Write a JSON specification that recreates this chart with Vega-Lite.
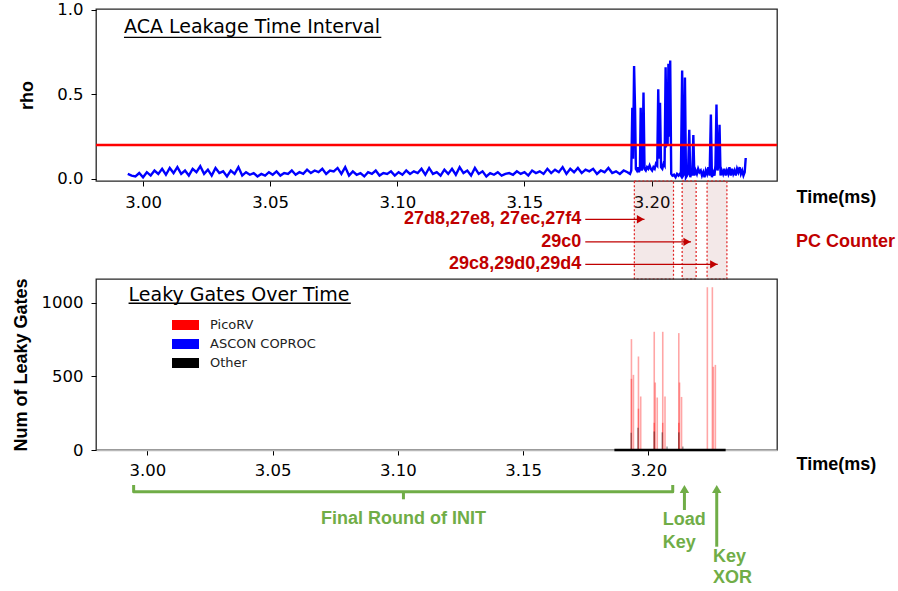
{
"$schema": "https://vega.github.io/schema/vega-lite/v6.json",
"background": "white",
"padding": {"left": 11, "top": 1, "right": 2, "bottom": 0},
"bounds": "flush",
"spacing": 0,
"config": {
  "view": {"stroke": null},
  "axis": {"labelFont": "DejaVu Sans", "labelFontSize": 16.5, "labelColor": "#000", "tickColor": "#000", "tickWidth": 1, "titleFont": "Liberation Sans", "titleFontSize": 18, "titleFontWeight": "bold", "titleColor": "#000", "grid": false}
},
"datasets": {
  "rho": [
{"t":2.9940,"rho":0.03},{"t":2.9955,"rho":0.02},{"t":2.9970,"rho":0.015},{"t":2.9985,"rho":0.035},{"t":3.0000,"rho":0.01},{"t":3.0015,"rho":0.04},{"t":3.0030,"rho":0.02},{"t":3.0045,"rho":0.05},{"t":3.0060,"rho":0.03},{"t":3.0075,"rho":0.06},
{"t":3.0090,"rho":0.025},{"t":3.0105,"rho":0.065},{"t":3.0120,"rho":0.035},{"t":3.0135,"rho":0.07},{"t":3.0150,"rho":0.03},{"t":3.0165,"rho":0.05},{"t":3.0180,"rho":0.02},{"t":3.0195,"rho":0.06},{"t":3.0210,"rho":0.04},{"t":3.0225,"rho":0.075},
{"t":3.0240,"rho":0.03},{"t":3.0255,"rho":0.055},{"t":3.0270,"rho":0.02},{"t":3.0285,"rho":0.065},{"t":3.0300,"rho":0.035},{"t":3.0315,"rho":0.045},{"t":3.0330,"rho":0.015},{"t":3.0345,"rho":0.05},{"t":3.0360,"rho":0.03},{"t":3.0375,"rho":0.07},
{"t":3.0390,"rho":0.02},{"t":3.0405,"rho":0.04},{"t":3.0420,"rho":0.025},{"t":3.0435,"rho":0.035},{"t":3.0450,"rho":0.015},{"t":3.0465,"rho":0.03},{"t":3.0480,"rho":0.02},{"t":3.0495,"rho":0.04},{"t":3.0510,"rho":0.025},{"t":3.0525,"rho":0.045},
{"t":3.0540,"rho":0.02},{"t":3.0555,"rho":0.035},{"t":3.0570,"rho":0.03},{"t":3.0585,"rho":0.05},{"t":3.0600,"rho":0.025},{"t":3.0615,"rho":0.04},{"t":3.0630,"rho":0.03},{"t":3.0645,"rho":0.055},{"t":3.0660,"rho":0.035},{"t":3.0675,"rho":0.05},
{"t":3.0690,"rho":0.04},{"t":3.0705,"rho":0.06},{"t":3.0720,"rho":0.03},{"t":3.0735,"rho":0.05},{"t":3.0750,"rho":0.045},{"t":3.0765,"rho":0.065},{"t":3.0780,"rho":0.03},{"t":3.0795,"rho":0.07},{"t":3.0810,"rho":0.02},{"t":3.0825,"rho":0.045},
{"t":3.0840,"rho":0.025},{"t":3.0855,"rho":0.035},{"t":3.0870,"rho":0.015},{"t":3.0885,"rho":0.04},{"t":3.0900,"rho":0.03},{"t":3.0915,"rho":0.05},{"t":3.0930,"rho":0.02},{"t":3.0945,"rho":0.035},{"t":3.0960,"rho":0.03},{"t":3.0975,"rho":0.045},
{"t":3.0990,"rho":0.02},{"t":3.1005,"rho":0.04},{"t":3.1020,"rho":0.025},{"t":3.1035,"rho":0.05},{"t":3.1050,"rho":0.03},{"t":3.1065,"rho":0.045},{"t":3.1080,"rho":0.035},{"t":3.1095,"rho":0.06},{"t":3.1110,"rho":0.025},{"t":3.1125,"rho":0.065},
{"t":3.1140,"rho":0.03},{"t":3.1155,"rho":0.04},{"t":3.1170,"rho":0.02},{"t":3.1185,"rho":0.055},{"t":3.1200,"rho":0.03},{"t":3.1215,"rho":0.06},{"t":3.1230,"rho":0.025},{"t":3.1245,"rho":0.07},{"t":3.1260,"rho":0.035},{"t":3.1275,"rho":0.05},
{"t":3.1290,"rho":0.02},{"t":3.1305,"rho":0.065},{"t":3.1320,"rho":0.03},{"t":3.1335,"rho":0.045},{"t":3.1350,"rho":0.015},{"t":3.1365,"rho":0.035},{"t":3.1380,"rho":0.025},{"t":3.1395,"rho":0.04},{"t":3.1410,"rho":0.02},{"t":3.1425,"rho":0.03},
{"t":3.1440,"rho":0.035},{"t":3.1455,"rho":0.025},{"t":3.1470,"rho":0.045},{"t":3.1485,"rho":0.03},{"t":3.1500,"rho":0.04},{"t":3.1515,"rho":0.02},{"t":3.1530,"rho":0.05},{"t":3.1545,"rho":0.035},{"t":3.1560,"rho":0.045},{"t":3.1575,"rho":0.03},
{"t":3.1590,"rho":0.06},{"t":3.1605,"rho":0.035},{"t":3.1620,"rho":0.055},{"t":3.1635,"rho":0.04},{"t":3.1650,"rho":0.07},{"t":3.1665,"rho":0.03},{"t":3.1680,"rho":0.06},{"t":3.1695,"rho":0.04},{"t":3.1710,"rho":0.065},{"t":3.1725,"rho":0.035},
{"t":3.1740,"rho":0.055},{"t":3.1755,"rho":0.045},{"t":3.1770,"rho":0.06},{"t":3.1785,"rho":0.03},{"t":3.1800,"rho":0.05},{"t":3.1815,"rho":0.04},{"t":3.1830,"rho":0.065},{"t":3.1845,"rho":0.035},{"t":3.1860,"rho":0.045},{"t":3.1875,"rho":0.03},
{"t":3.1890,"rho":0.05},{"t":3.1905,"rho":0.04},
{"t":3.1915,"rho":0.03},{"t":3.1920,"rho":0.05},{"t":3.1924,"rho":0.42},{"t":3.1927,"rho":0.12},{"t":3.1931,"rho":0.667},{"t":3.1935,"rho":0.40},{"t":3.1938,"rho":0.06},{"t":3.1942,"rho":0.05},{"t":3.1946,"rho":0.07},{"t":3.1950,"rho":0.04},
{"t":3.1954,"rho":0.06},{"t":3.1957,"rho":0.42},{"t":3.1961,"rho":0.05},{"t":3.1964,"rho":0.08},{"t":3.1968,"rho":0.51},{"t":3.1972,"rho":0.06},{"t":3.1977,"rho":0.05},{"t":3.1982,"rho":0.07},{"t":3.1987,"rho":0.06},{"t":3.1992,"rho":0.08},
{"t":3.1997,"rho":0.06},{"t":3.2002,"rho":0.05},{"t":3.2007,"rho":0.07},{"t":3.2012,"rho":0.06},{"t":3.2017,"rho":0.09},{"t":3.2022,"rho":0.08},{"t":3.2026,"rho":0.53},{"t":3.2030,"rho":0.12},{"t":3.2033,"rho":0.45},{"t":3.2037,"rho":0.07},
{"t":3.2042,"rho":0.06},{"t":3.2047,"rho":0.09},{"t":3.2051,"rho":0.08},{"t":3.2055,"rho":0.66},{"t":3.2059,"rho":0.2},{"t":3.2063,"rho":0.21},{"t":3.2066,"rho":0.68},{"t":3.2069,"rho":0.25},{"t":3.2073,"rho":0.70},{"t":3.2077,"rho":0.03},
{"t":3.2082,"rho":0.02},{"t":3.2088,"rho":0.025},{"t":3.2094,"rho":0.01},{"t":3.2100,"rho":0.03},{"t":3.2106,"rho":0.02},{"t":3.2111,"rho":0.03},{"t":3.2115,"rho":0.02},{"t":3.2120,"rho":0.64},{"t":3.2124,"rho":0.02},{"t":3.2128,"rho":0.03},
{"t":3.2131,"rho":0.60},{"t":3.2135,"rho":0.01},{"t":3.2139,"rho":0.02},{"t":3.2143,"rho":0.03},{"t":3.2148,"rho":0.29},{"t":3.2152,"rho":0.01},{"t":3.2156,"rho":0.04},{"t":3.2160,"rho":0.02},{"t":3.2164,"rho":0.26},{"t":3.2168,"rho":0.02},
{"t":3.2173,"rho":0.05},{"t":3.2178,"rho":0.03},{"t":3.2183,"rho":0.06},{"t":3.2188,"rho":0.04},{"t":3.2193,"rho":0.05},{"t":3.2198,"rho":0.02},{"t":3.2203,"rho":0.04},{"t":3.2208,"rho":0.01},{"t":3.2213,"rho":0.05},{"t":3.2218,"rho":0.03},
{"t":3.2223,"rho":0.07},{"t":3.2228,"rho":0.02},{"t":3.2233,"rho":0.38},{"t":3.2237,"rho":0.01},{"t":3.2242,"rho":0.04},{"t":3.2247,"rho":0.02},{"t":3.2251,"rho":0.08},{"t":3.2255,"rho":0.44},{"t":3.2259,"rho":0.05},{"t":3.2263,"rho":0.08},
{"t":3.2267,"rho":0.32},{"t":3.2271,"rho":0.02},{"t":3.2276,"rho":0.05},{"t":3.2281,"rho":0.03},{"t":3.2286,"rho":0.06},{"t":3.2291,"rho":0.02},{"t":3.2296,"rho":0.05},{"t":3.2301,"rho":0.03},{"t":3.2306,"rho":0.07},{"t":3.2311,"rho":0.02},
{"t":3.2316,"rho":0.06},{"t":3.2321,"rho":0.03},{"t":3.2326,"rho":0.05},{"t":3.2331,"rho":0.02},{"t":3.2336,"rho":0.06},{"t":3.2341,"rho":0.04},{"t":3.2346,"rho":0.07},{"t":3.2351,"rho":0.03},{"t":3.2356,"rho":0.05},{"t":3.2361,"rho":0.02},
{"t":3.2366,"rho":0.04},{"t":3.2370,"rho":0.124}
  ],
  "gates": [
{"t":3.1932,"count":754,"series":"PicoRV"},{"t":3.1932,"count":484,"series":"PicoRV"},{"t":3.1940,"count":511,"series":"PicoRV"},{"t":3.1960,"count":636,"series":"PicoRV"},{"t":3.1960,"count":281,"series":"PicoRV"},{"t":3.1969,"count":364,"series":"PicoRV"},
{"t":3.2023,"count":804,"series":"PicoRV"},{"t":3.2023,"count":185,"series":"PicoRV"},{"t":3.2027,"count":459,"series":"PicoRV"},{"t":3.2035,"count":357,"series":"PicoRV"},{"t":3.2057,"count":804,"series":"PicoRV"},{"t":3.2057,"count":185,"series":"PicoRV"},
{"t":3.2066,"count":364,"series":"PicoRV"},{"t":3.2121,"count":795,"series":"PicoRV"},{"t":3.2121,"count":185,"series":"PicoRV"},{"t":3.2124,"count":459,"series":"PicoRV"},{"t":3.2132,"count":361,"series":"PicoRV"},
{"t":3.2235,"count":1107,"series":"PicoRV"},{"t":3.2255,"count":1107,"series":"PicoRV"},{"t":3.2259,"count":566,"series":"PicoRV"},{"t":3.2267,"count":579,"series":"PicoRV"},
{"t":3.1931,"count":118,"series":"Other"},{"t":3.1958,"count":151,"series":"Other"},{"t":3.2023,"count":126,"series":"Other"},{"t":3.2055,"count":120,"series":"Other"},{"t":3.2074,"count":24,"series":"Other"},{"t":3.2121,"count":120,"series":"Other"},{"t":3.2137,"count":24,"series":"Other"}
  ],
  "pcs": [
{"label":"27d8,27e8, 27ec,27f4","row":1,"textEnd":3.1723,"from":3.1739,"to":3.1972},
{"label":"29c0","row":2,"textEnd":3.1723,"from":3.1739,"to":3.2155},
{"label":"29c8,29d0,29d4","row":3,"textEnd":3.1723,"from":3.1739,"to":3.2260}
  ],
  "windows": [
{"start":3.1932,"end":3.2086},{"start":3.2120,"end":3.2175},{"start":3.2218,"end":3.2296}
  ]
},
"vconcat": [
 {
  "width": 681, "height": 172,
  "view": {"stroke": "#262626", "strokeWidth": 1.3},
  "layer": [
   {"data": {"name": "rho"},
    "mark": {"type": "line", "color": "#0000ff", "strokeWidth": 2.4, "clip": true},
    "encoding": {
     "x": {"field": "t", "type": "quantitative", "scale": {"domain": [2.9815, 3.2493], "nice": false, "zero": false},
       "axis": {"values": [3.0, 3.05, 3.1, 3.15, 3.2], "format": ".2f", "domain": false, "tickSize": 5, "labelPadding": 8, "title": "Time(ms)", "titleX": 700, "titleY": 16, "titleAlign": "left", "titleBaseline": "middle", "titleAngle": 0}},
     "y": {"field": "rho", "type": "quantitative", "scale": {"domain": [-0.012, 1.004], "nice": false, "zero": false},
       "axis": {"values": [0, 0.5, 1.0], "format": ".1f", "domain": false, "tickSize": 5, "labelPadding": 8, "title": "rho", "titlePadding": 20}}
    }},
   {"data": {"values": [{"rho": 0.2}]},
    "mark": {"type": "rule", "color": "#ff0000", "strokeWidth": 2.5},
    "encoding": {"y": {"field": "rho", "type": "quantitative", "scale": {"domain": [-0.012, 1.004], "nice": false, "zero": false}}}},
   {"data": {"values": [{"t": 2.9925, "rho": 0.86, "label": "ACA Leakage Time Interval"}]},
    "mark": {"type": "text", "font": "DejaVu Sans", "fontSize": 19, "align": "left", "baseline": "alphabetic", "color": "#000"},
    "encoding": {
     "x": {"field": "t", "type": "quantitative", "scale": {"domain": [2.9815, 3.2493], "nice": false, "zero": false}},
     "y": {"field": "rho", "type": "quantitative", "scale": {"domain": [-0.012, 1.004], "nice": false, "zero": false}},
     "text": {"field": "label"}}},
   {"data": {"values": [{"t": 2.9925, "t2": 3.0937, "rho": 0.8365}]},
    "mark": {"type": "rule", "color": "#000", "strokeWidth": 1.3},
    "encoding": {
     "x": {"field": "t", "type": "quantitative", "scale": {"domain": [2.9815, 3.2493], "nice": false, "zero": false}},
     "x2": {"field": "t2"},
     "y": {"field": "rho", "type": "quantitative", "scale": {"domain": [-0.012, 1.004], "nice": false, "zero": false}}}}
  ]
 },
 {
  "width": 681, "height": 98,
  "view": {"stroke": null},
  "layer": [
   {"data": {"name": "windows"},
    "mark": {"type": "rect", "fill": "#a05050", "fillOpacity": 0.13, "stroke": "#e02020", "strokeDash": [2, 2], "strokeWidth": 1.2},
    "encoding": {
     "x": {"field": "start", "type": "quantitative", "scale": {"domain": [2.9815, 3.2493], "nice": false, "zero": false}, "axis": null},
     "x2": {"field": "end"}}},
   {"data": {"name": "pcs"},
    "mark": {"type": "rule", "color": "#c00000", "strokeWidth": 1.2},
    "encoding": {
     "x": {"field": "from", "type": "quantitative", "scale": {"domain": [2.9815, 3.2493], "nice": false, "zero": false}, "axis": null},
     "x2": {"field": "to"},
     "y": {"field": "row", "type": "quantitative", "scale": {"domain": [-0.7, 3.65], "reverse": true, "nice": false, "zero": false}, "axis": null}}},
   {"data": {"name": "pcs"},
    "mark": {"type": "point", "shape": "triangle-right", "filled": true, "size": 70, "color": "#c00000", "opacity": 1, "xOffset": -4},
    "encoding": {
     "x": {"field": "to", "type": "quantitative", "scale": {"domain": [2.9815, 3.2493], "nice": false, "zero": false}, "axis": null},
     "y": {"field": "row", "type": "quantitative", "scale": {"domain": [-0.7, 3.65], "reverse": true, "nice": false, "zero": false}, "axis": null}}},
   {"data": {"name": "pcs"},
    "mark": {"type": "text", "font": "Liberation Sans", "fontWeight": "bold", "fontSize": 18, "align": "right", "baseline": "middle", "color": "#c00000"},
    "encoding": {
     "x": {"field": "textEnd", "type": "quantitative", "scale": {"domain": [2.9815, 3.2493], "nice": false, "zero": false}, "axis": null},
     "y": {"field": "row", "type": "quantitative", "scale": {"domain": [-0.7, 3.65], "reverse": true, "nice": false, "zero": false}, "axis": null},
     "text": {"field": "label"}}},
   {"data": {"values": [{"t": 3.2568, "row": 2, "label": "PC Counter"}]},
    "mark": {"type": "text", "font": "Liberation Sans", "fontWeight": "bold", "fontSize": 18, "align": "left", "baseline": "middle", "color": "#c00000"},
    "encoding": {
     "x": {"field": "t", "type": "quantitative", "scale": {"domain": [2.9815, 3.2493], "nice": false, "zero": false}, "axis": null},
     "y": {"field": "row", "type": "quantitative", "scale": {"domain": [-0.7, 3.65], "reverse": true, "nice": false, "zero": false}, "axis": null},
     "text": {"field": "label"}}}
  ]
 },
 {
  "width": 681, "height": 171,
  "view": {"stroke": "#262626", "strokeWidth": 1.3},
  "layer": [
   {"data": {"name": "gates"},
    "mark": {"type": "bar", "size": 1.6, "opacity": 0.35},
    "encoding": {
     "x": {"field": "t", "type": "quantitative", "scale": {"domain": [2.9815, 3.2493], "nice": false, "zero": false},
       "axis": {"values": [3.0, 3.05, 3.1, 3.15, 3.2], "format": ".2f", "domain": true, "domainColor": "#b8b8b8", "domainWidth": 1.3, "tickSize": 5, "labelPadding": 7, "title": "Time(ms)", "titleX": 700, "titleY": 14, "titleAlign": "left", "titleBaseline": "middle", "titleAngle": 0}},
     "y": {"field": "count", "type": "quantitative", "stack": null, "scale": {"domain": [0, 1163], "nice": false, "zero": false},
       "axis": {"values": [0, 500, 1000], "format": "d", "domain": false, "tickSize": 5, "labelPadding": 8, "title": "Num of Leaky Gates", "titlePadding": 11}},
     "color": {"field": "series", "type": "nominal",
       "scale": {"domain": ["PicoRV", "ASCON COPROC", "Other"], "range": ["#ff0000", "#0000ff", "#000000"]},
       "legend": {"orient": "none", "legendX": 76, "legendY": 306.5, "title": null, "padding": 0, "offset": 0,
         "symbolType": "M-1,-0.37H1V0.37H-1Z", "symbolSize": 729, "symbolOpacity": 1, "symbolStrokeWidth": 0,
         "labelFont": "DejaVu Sans", "labelFontSize": 13, "labelColor": "#222", "labelOffset": 11, "clipHeight": 19, "rowPadding": 0}}
    }},
   {"data": {"values": [{"start": 3.1864, "end": 3.2308, "count": 0}]},
    "mark": {"type": "rule", "color": "#000", "strokeWidth": 2.5},
    "encoding": {
     "x": {"field": "start", "type": "quantitative", "scale": {"domain": [2.9815, 3.2493], "nice": false, "zero": false}},
     "x2": {"field": "end"},
     "y": {"field": "count", "type": "quantitative", "scale": {"domain": [0, 1163], "nice": false, "zero": false}}}},
   {"data": {"values": [{"t": 2.9925, "count": 1016, "label": "Leaky Gates Over Time"}]},
    "mark": {"type": "text", "font": "DejaVu Sans", "fontSize": 19, "align": "left", "baseline": "alphabetic", "color": "#000"},
    "encoding": {
     "x": {"field": "t", "type": "quantitative", "scale": {"domain": [2.9815, 3.2493], "nice": false, "zero": false}},
     "y": {"field": "count", "type": "quantitative", "scale": {"domain": [0, 1163], "nice": false, "zero": false}},
     "text": {"field": "label"}}},
   {"data": {"values": [{"t": 2.9925, "t2": 3.0812, "count": 998}]},
    "mark": {"type": "rule", "color": "#000", "strokeWidth": 1.3},
    "encoding": {
     "x": {"field": "t", "type": "quantitative", "scale": {"domain": [2.9815, 3.2493], "nice": false, "zero": false}},
     "x2": {"field": "t2"},
     "y": {"field": "count", "type": "quantitative", "scale": {"domain": [0, 1163], "nice": false, "zero": false}}}}
  ]
 },
 {
  "width": 681, "height": 141,
  "view": {"stroke": null},
  "layer": [
   {"data": {"values": [{"i": 0, "t": 2.9963, "lvl": 3.5}, {"i": 1, "t": 2.9963, "lvl": 4.17}, {"i": 2, "t": 3.2083, "lvl": 4.17}, {"i": 3, "t": 3.2083, "lvl": 3.5}]},
    "mark": {"type": "line", "color": "#70ad47", "strokeWidth": 3, "strokeJoin": "round"},
    "encoding": {
     "x": {"field": "t", "type": "quantitative", "scale": {"domain": [2.9815, 3.2493], "nice": false, "zero": false}, "axis": null},
     "y": {"field": "lvl", "type": "quantitative", "scale": {"domain": [0, 14.1], "reverse": true, "nice": false, "zero": false}, "axis": null},
     "order": {"field": "i"}}},
   {"data": {"values": [{"t": 3.1024, "lvl": 4.17, "lvl2": 4.93}, {"t": 3.2129, "lvl": 6.0, "lvl2": 3.9}, {"t": 3.2256, "lvl": 9.67, "lvl2": 3.9}]},
    "mark": {"type": "rule", "color": "#70ad47", "strokeWidth": 3},
    "encoding": {
     "x": {"field": "t", "type": "quantitative", "scale": {"domain": [2.9815, 3.2493], "nice": false, "zero": false}, "axis": null},
     "y": {"field": "lvl", "type": "quantitative", "scale": {"domain": [0, 14.1], "reverse": true, "nice": false, "zero": false}, "axis": null},
     "y2": {"field": "lvl2"}}},
   {"data": {"values": [{"t": 3.2129, "lvl": 3.4}, {"t": 3.2256, "lvl": 3.4}]},
    "mark": {"type": "point", "shape": "triangle-up", "filled": true, "size": 90, "color": "#70ad47", "opacity": 1, "yOffset": 5},
    "encoding": {
     "x": {"field": "t", "type": "quantitative", "scale": {"domain": [2.9815, 3.2493], "nice": false, "zero": false}, "axis": null},
     "y": {"field": "lvl", "type": "quantitative", "scale": {"domain": [0, 14.1], "reverse": true, "nice": false, "zero": false}, "axis": null}}},
   {"data": {"values": [{"t": 3.1024, "lvl": 6.9, "label": "Final Round of INIT"}]},
    "mark": {"type": "text", "font": "Liberation Sans", "fontWeight": "bold", "fontSize": 18, "align": "center", "baseline": "middle", "color": "#70ad47"},
    "encoding": {
     "x": {"field": "t", "type": "quantitative", "scale": {"domain": [2.9815, 3.2493], "nice": false, "zero": false}, "axis": null},
     "y": {"field": "lvl", "type": "quantitative", "scale": {"domain": [0, 14.1], "reverse": true, "nice": false, "zero": false}, "axis": null},
     "text": {"field": "label"}}},
   {"data": {"values": [{"t": 3.2044, "lvl": 7.0, "label": "Load"}, {"t": 3.2044, "lvl": 9.27, "label": "Key"}, {"t": 3.2241, "lvl": 10.73, "label": "Key"}, {"t": 3.2241, "lvl": 12.83, "label": "XOR"}]},
    "mark": {"type": "text", "font": "Liberation Sans", "fontWeight": "bold", "fontSize": 18, "align": "left", "baseline": "middle", "color": "#70ad47"},
    "encoding": {
     "x": {"field": "t", "type": "quantitative", "scale": {"domain": [2.9815, 3.2493], "nice": false, "zero": false}, "axis": null},
     "y": {"field": "lvl", "type": "quantitative", "scale": {"domain": [0, 14.1], "reverse": true, "nice": false, "zero": false}, "axis": null},
     "text": {"field": "label"}}}
  ]
 }
]
}
